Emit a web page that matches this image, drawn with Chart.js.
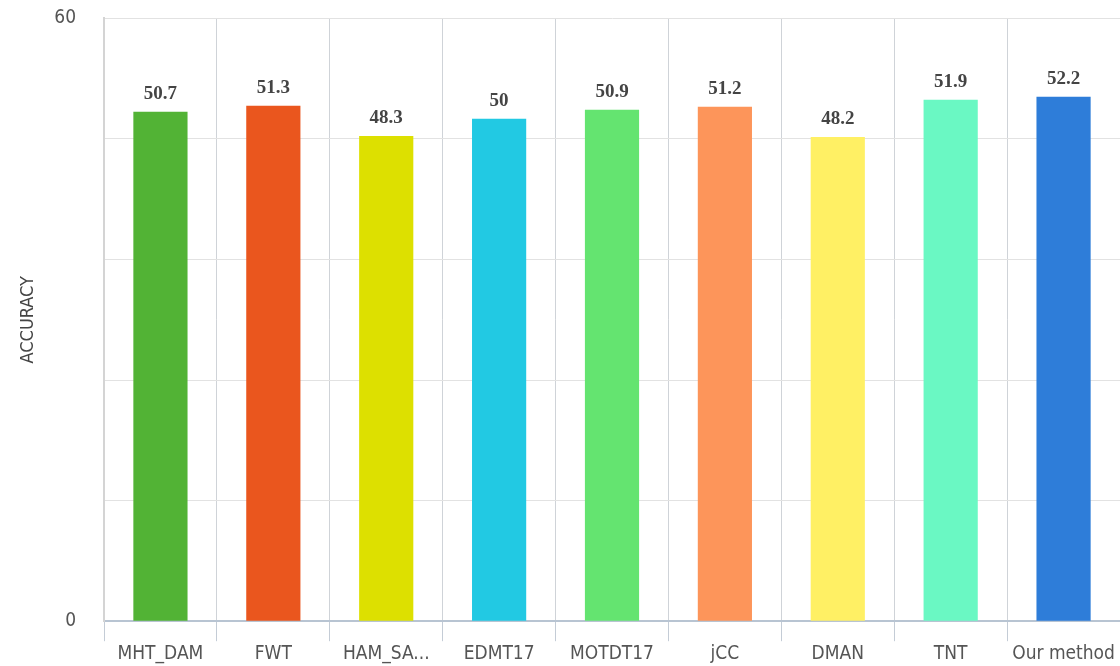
<!DOCTYPE html>
<html>
<head>
<meta charset="utf-8">
<script src="https://cdn.jsdelivr.net/npm/chart.js@4"></script>
<style>
  html, body { margin: 0; padding: 0; background: #fff; }
  #wrap { width: 1120px; height: 666px; }
</style>
</head>
<body>
<div id="wrap"><canvas id="accuracyChart"></canvas></div>
<script>
// data
const methods = ['MHT_DAM', 'FWT', 'HAM_SA...', 'EDMT17', 'MOTDT17', 'jCC', 'DMAN', 'TNT', 'Our method'];
const accuracy = [50.7, 51.3, 48.3, 50, 50.9, 51.2, 48.2, 51.9, 52.2];
const barColors = ['#52b335', '#ea561e', '#dde000', '#22c9e3', '#64e470', '#fd955a', '#fff064', '#6af8c3', '#2e7dd9'];
const yTicksShown = [0, 60];

const axisFont = '"DejaVu Sans Condensed", "DejaVu Sans", sans-serif';

// draws the value above each bar
const valueLabels = {
    id: 'valueLabels',
    afterDatasetsDraw(chart) {
        const ctx = chart.ctx;
        const meta = chart.getDatasetMeta(0);
        ctx.save();
        ctx.font = 'bold 19px "Liberation Serif", serif';
        ctx.fillStyle = '#444';
        ctx.textAlign = 'center';
        ctx.textBaseline = 'alphabetic';
        meta.data.forEach((bar, i) => {
            ctx.fillText(accuracy[i], bar.x, bar.y - 13);
        });
        ctx.restore();
    }
};

const ctx = document.getElementById('accuracyChart').getContext('2d');

const accuracyChart = new Chart(ctx, {
    type: 'bar',
    data: {
        labels: methods,
        datasets: [{
            data: accuracy,
            backgroundColor: barColors,
            barPercentage: 0.48,
            categoryPercentage: 1
        }]
    },
    options: {
        responsive: true,
        maintainAspectRatio: false,
        animation: false,
        layout: { padding: { top: 0, right: 0, bottom: 0, left: 14 } },
        plugins: {
            legend: { display: false },
            tooltip: { enabled: false }
        },
        scales: {
            x: {
                grid: {
                    offset: true,
                    color: '#cfd3d8',
                    tickLength: 20,
                    tickColor: '#c4ccd6'
                },
                border: { color: '#b8c4d2', width: 2 },
                ticks: {
                    color: '#555',
                    padding: 1,
                    font: { family: axisFont, size: 19 }
                }
            },
            y: {
                min: 0,
                max: 60,
                afterFit(scale) { scale.width = 90; },
                grid: { color: '#e2e2e2', tickLength: 21, tickColor: 'transparent' },
                border: { color: '#d4d4d4', width: 2 },
                ticks: {
                    stepSize: 12,
                    padding: 7,
                    color: '#555',
                    font: { family: axisFont, size: 19 },
                    callback: v => yTicksShown.includes(v) ? v : ''
                },
                title: {
                    display: true,
                    text: 'ACCURACY',
                    color: '#444',
                    font: { family: axisFont, size: 18 }
                }
            }
        }
    },
    plugins: [valueLabels]
});
</script>
</body>
</html>
